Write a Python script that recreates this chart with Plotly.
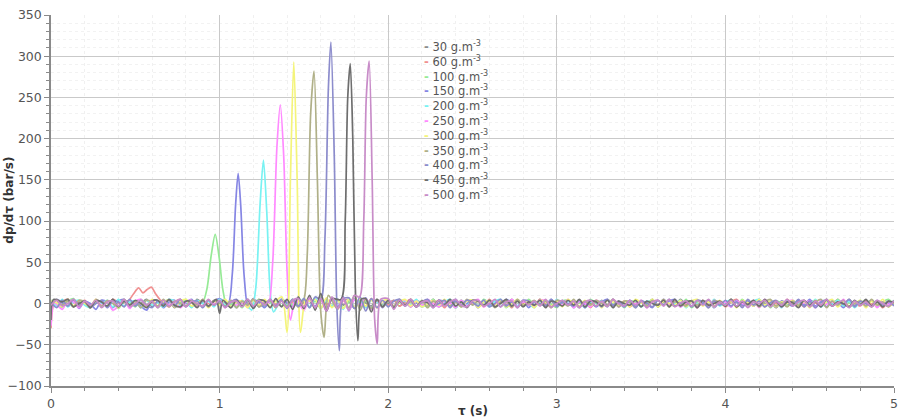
import numpy as np
import plotly.graph_objects as go

# ---------------- data ----------------
concentrations = ["30", "60", "100", "150", "200", "250", "300", "350", "400", "450", "500"]
colors = ["#8c8c8c", "#f09090", "#96ea96", "#8686e4", "#78f2f2", "#ff8aff",
          "#f4f47a", "#b0b088", "#8c8ccc", "#6e6e6e", "#c88cc8"]

# baseline samples (bar/s), evenly spaced over 0..5 s
base_30 = [-3, 4, -2, 5, -4, 2, 0, -5, 4, 1, -3, 5, -4, 2, 3,
           -2, 0, 5, -4, 3, -1, 4, -5, 2, 1, -4, 5, 0, -3, 4,
           -1, 3, -5, 4, 1, -3, 6, -4, 0, 3, -2, 5, -1, 4, -4,
           1, 3, -5, 4, 0, -3, 5, -2, 3, -6, 4, 1, -3, 5, -2,
           0, 4, -3, 2, -4, 3, 1, -3, 5, -4, 0, 3, -5, 4, -1,
           3, -3, 4, 1, -4, 3, -2, 5, -3, 0, 2, -4, 5, -1, 3,
           -3, 4, -2, 1, -5, 3, 0, -3, 4, -2, 5, -4, 1, 2, -3,
           4, -1, 3, -4, 2, 0, -3, 5, -2, 3, -4, 1, 4, -3, 2,
           -2, 5, -4, 1, 3, -3, 4, -1, 2, -5, 3, 0, -2, 4, -3,
           1, 3, -4, 2, -1, 4, -3, 5, -2, 0, 3, -4, 2, 1, -3, 4]
base_60 = [2, -4, 3, 5, -3, 0, 4, -5, 2, 3, -4, 5, 1, -3, 4,
           1, -5, 3, 4, -2, 3, -4, 2, 5, -3, 1, -4, 3, 0, -2,
           4, -3, 2, -5, 3, 1, -4, 5, -2, 3, -1, 4, -5, 2, 0,
           -3, 6, -5, 4, -2, 7, -6, 3, 5, -4, 2, -3, 6, -5, 3,
           -2, 4, -3, 1, 5, -4, 3, -2, 0, 4, -5, 3, 2, -3, 4,
           -1, 3, -4, 5, -2, 1, 3, -5, 4, -1, 2, -3, 5, 0, -4,
           3, -2, 4, -3, 1, 2, -5, 4, 0, -3, 5, -2, 3, -4, 1,
           2, -3, 5, -4, 3, -1, 4, -2, 0, 3, -5, 4, -2, 1, 3,
           -4, 2, 5, -3, 1, -2, 4, -4, 3, 0, -3, 5, -1, 2, -4,
           3, 1, -3, 4, -2, 5, -4, 2, 0, -3, 4, -1, 3, -5, 2, 1]
base_100 = [4, -1, -5, 3, 6, -3, 2, -4, 5, 0, -3, 4, -6, 3, 1,
            -4, 5, -2, 3, -5, 2, 4, -3, 0, 5, -4, 3, -1, 4, -5,
            3, 6, -4, 2, -5, 3, -2, 5, -4, 1, 3, -3, 4, -2, 0,
            5, -4, 3, -6, 5, -3, 4, -5, 2, 6, -4, 3, -5, 4, -2,
            3, -4, 1, 4, -3, 2, 0, -4, 5, -3, 2, 1, -5, 4, -2,
            3, -3, 5, 0, -2, 4, -5, 2, 3, -3, 5, -2, 0, 4, -1,
            -5, 3, 4, -2, 1, -4, 5, 0, -3, 4, -1, 2, -5, 3, 2,
            -3, 0, 5, -4, 3, -2, 4, -3, 5, -5, 2, 3, -4, 4, 0,
            -2, 3, -4, 5, -1, 2, -3, 4, -5, 3, 1, -2, 4, -3, 2,
            0, -4, 3, 2, -3, 5, -2, 1, -4, 4, -1, 3, -3, 2, 5, -2]
base_150 = [-4, 5, 1, -3, 4, -6, 3, 0, -7, 4, 2, -5, 3, 5, -4,
            2, -3, -8, 4, 3, -5, 2, 4, -4, 1, 5, -3, 2, -4, 3,
            6, -7, 5, -4, 3, -6, 4, 2, -5, 3, -3, 5, 1, -4, 3,
            -5, 4, -3, 6, -6, 5, -4, 8, -9, 5, -3, 7, -6, 4, -5,
            3, -4, 5, -2, 4, 1, -4, 3, -5, 4, 2, -3, 5, -4, 0,
            3, -5, 4, -2, 3, -4, 5, 1, -3, 4, -5, 2, 0, -3, 5,
            -2, 1, 4, -5, 3, -1, 4, -4, 2, 5, -3, 1, -4, 4, -2,
            3, 0, -5, 4, -2, 3, 5, -4, 2, -3, 4, -1, 3, -5, 2,
            1, -4, 4, -2, 3, -3, 5, -1, 2, -4, 3, 0, -3, 4, -2,
            5, -3, 2, -4, 3, 1, -5, 4, -2, 3, -1, 4, -4, 2, 0, 3]
base_200 = [3, -3, 5, -4, 2, 4, -2, -5, 3, 0, 4, -4, 5, -3, 2,
            3, -5, 4, -2, 1, -4, 5, 3, -3, 2, -5, 4, 0, 3, -4,
            5, -2, 3, -5, 4, -3, 2, 5, -4, 3, -6, 4, -2, 5, -3,
            6, -5, 7, -6, 4, -3, 5, -7, 6, -4, 3, -5, 4, 2, -3,
            4, -5, 2, 3, -2, 5, -4, 0, 4, -3, 2, 5, -5, 3, -2,
            4, -3, 2, -4, 3, 5, -4, 2, -3, 4, 0, -5, 3, 2, -4,
            5, -2, 3, -3, 4, -5, 2, 1, 3, -4, 5, -3, 2, -2, 4,
            -4, 3, 1, -3, 5, -2, 0, 4, -5, 3, -1, 2, -4, 5, -3,
            2, 4, -3, 1, -4, 3, 5, -2, 0, 3, -5, 4, -2, 1, 3,
            -3, 5, -4, 2, -1, 4, -3, 3, -5, 2, 0, 4, -3, 2, -2, 3]
base_250 = [-2, 3, -7, 4, 2, -5, 3, -4, 5, -2, 3, -8, -3, 4, -6,
            3, 5, -3, 2, -4, 4, -2, 3, -5, 2, 4, -3, 5, -4, 1,
            3, -5, 4, -2, 1, -4, 5, -3, 2, -6, 4, -2, 3, -5, 4,
            -8, 6, -5, 4, -9, 7, -6, 4, -8, 5, -3, 6, -7, 4, -4,
            5, -3, 2, 4, -4, 3, -2, 5, 0, -4, 3, 1, -5, 4, -3,
            2, 5, -4, 1, -2, 4, -3, 5, -4, 2, 0, -3, 4, 3, -5,
            4, -2, 5, -5, 3, 0, -4, 4, 1, -3, 5, -4, 3, -2, 0,
            4, -5, 3, -3, 5, -2, 4, -4, 1, 2, -5, 3, -3, 4, 0,
            2, -4, 3, 0, -3, 4, -5, 5, -2, 3, -4, 2, 4, -3, 1,
            3, -5, 4, -1, 2, -3, 5, -4, 0, 3, -2, 4, -5, 2, -1, 2]
base_300 = [3, 1, -4, 5, -3, 4, 0, -3, 5, -4, 2, 3, -5, 4, -2,
            3, 0, -4, 5, -3, 2, 4, -4, 3, 5, -3, 0, 4, -5, 3,
            -2, 5, -4, 2, 3, -5, 4, -2, 5, -4, 3, -3, 4, -5, 6,
            -4, 3, 5, -6, 7, -5, 4, -6, 5, -4, 6, -3, 4, -5, 3,
            4, -4, 2, 5, -3, 3, -4, 0, 4, -2, 5, -3, 2, -4, 3,
            4, -5, 2, 3, -3, 4, -4, 0, 5, -2, 3, -5, 4, 2, -3,
            3, -4, 5, 0, -3, 4, -2, 3, -5, 4, 2, -3, 3, -4, 5,
            1, -3, 5, -4, 3, 0, -2, 4, -4, 3, 5, -3, 2, -4, 4,
            -2, 3, -5, 4, 1, -3, 5, -2, 3, -4, 2, 0, 4, -3, 3,
            -5, 4, -2, 2, 5, -4, 3, -3, 0, 4, -5, 3, -2, 5, -4, 2]
base_350 = [-3, 5, -2, 3, -4, 4, 2, -5, 3, -3, 4, 0, -4, 5, -2,
            3, -5, 4, 2, -3, 5, -4, 3, 0, -3, 4, -2, 5, -4, 3,
            2, -3, 4, -5, 3, -2, 5, -4, 1, 3, -5, 4, -3, 5, -4,
            12, 4, -6, 7, -12, 9, -7, 6, -5, 10, -8, 5, -6, 4, -4,
            3, -3, 5, -2, 2, -4, 4, -5, 3, 0, 4, -3, 2, -4, 5,
            -2, 3, -3, 4, -5, 2, 3, -4, 5, -2, 0, 4, -2, 3, -5,
            4, 2, -3, 5, -4, 3, -2, 4, 0, -3, 5, -4, 3, 2, -5,
            3, -3, 4, -2, 5, -4, 2, 0, -3, 4, -2, 3, -5, 4, 1,
            -3, 5, -4, 3, -2, 4, -4, 2, 5, -3, 1, -4, 3, -2, 4,
            -3, 2, 5, -5, 3, -2, 4, -4, 0, 3, -3, 5, -2, 2, -4, 3]
base_400 = [2, -5, 4, -3, 5, -2, 3, -4, 0, 4, -5, 3, 2, -4, 5,
            -3, 4, -2, -5, 3, 0, 4, -3, 5, -4, 2, 3, -5, 4, -2,
            3, -4, 2, 5, -3, 4, -5, 3, -2, 5, -3, 4, -6, 5, -3,
            6, -5, 8, -7, 14, -8, 9, -10, 7, -6, 8, -9, 6, -5, 4,
            -4, 3, 5, -3, 4, -4, 2, 5, -3, 0, 4, -5, 3, -2, 4,
            2, -3, 4, -4, 0, 5, -3, 2, -5, 4, 3, -2, 4, -3, 5,
            -4, 2, 0, -3, 4, -5, 3, 2, -4, 5, -2, 3, -3, 4, -5,
            3, 1, -4, 4, -2, 5, -3, 0, 3, -4, 4, 2, -5, 3, -2,
            4, -3, 2, -5, 5, -2, 3, -4, 1, 4, -3, 2, -2, 5, -4,
            3, -5, 2, 4, -3, 2, -1, 5, -4, 3, 0, -3, 4, -2, 3, -3]
base_450 = [4, -3, 2, 5, -4, 0, 3, -5, 4, 2, -3, 5, -4, 3, -2,
            4, 0, -5, 3, 4, -3, 5, -2, -4, 3, 2, -5, 4, -3, 5,
            -4, 6, -5, 4, -3, 5, -6, 4, 3, -5, 6, -4, 5, -7, 8,
            -6, 10, -8, 12, -9, 6, -8, 5, -6, 9, -7, 6, -10, 5, -4,
            4, -5, 3, -2, 5, -4, 3, 1, -4, 4, -2, 5, -3, 2, -5,
            4, 3, -2, 4, -4, 0, 5, -3, 3, -4, 2, -2, 4, -5, 3,
            1, -3, 4, -2, 5, -4, 3, 2, -3, 4, -5, 3, 0, -2, 4,
            -4, 3, 0, -2, 4, -4, 5, -3, 2, 3, -5, 4, -2, 0, 3,
            -3, 5, -4, 2, -1, 4, -3, 5, -2, 3, -4, 2, 1, -5, 4,
            -2, 3, -4, 5, -3, 2, 0, -4, 4, -2, 5, -3, 2, -4, 3, 1]
base_500 = [-2, 4, -3, 0, 5, -4, 3, -2, 4, -5, 2, 3, -3, 5, -4,
            0, 4, -2, 3, -5, 4, -3, 2, 5, -4, 3, 0, -3, 5, -2,
            4, -5, 2, 3, -4, 5, -3, 4, -2, 5, -4, 3, -5, 4, 6,
            -4, 7, -5, 6, -9, 8, -6, 7, -8, 10, -7, 14, -8, 7, -11,
            6, -7, 4, -3, 5, -4, 2, 3, -5, 4, -3, 2, 5, -2, -4,
            3, 4, -3, 0, 5, -4, 2, 3, -5, 4, -2, 3, -3, 5, -4,
            0, 4, -2, 3, -5, 2, 4, -3, 3, -4, 5, 0, -3, 4, -2,
            3, -5, 2, 4, -3, 5, -4, 1, 3, -3, 4, -2, 5, -4, 2,
            -2, 4, -3, 3, -5, 2, 0, 4, -4, 3, -2, 5, -3, 2, 4,
            -4, 3, -2, 5, -3, 1, 4, -5, 3, -2, 2, -4, 4, 0, -3, 3]

# event points: (time s, dp/dt bar/s) – start transient, bumps and combustion peaks
ev_t_30 = [0.0, 0.015]
ev_y_30 = [-22, 2]
ev_t_60 = [0.0, 0.02, 0.46, 0.49, 0.52, 0.545, 0.57, 0.595, 0.62, 0.65]
ev_y_60 = [-30, 0, 3, 12, 19, 13, 17, 20, 12, 4]
ev_t_100 = [0.90, 0.925, 0.95, 0.974, 0.998, 1.02, 1.045]
ev_y_100 = [2, 18, 58, 84, 55, 16, -3]
ev_t_150 = [1.05, 1.075, 1.095, 1.11, 1.125, 1.145, 1.17]
ev_y_150 = [0, 35, 120, 158, 120, 35, -5]
ev_t_200 = [1.19, 1.215, 1.24, 1.26, 1.28, 1.30, 1.32]
ev_y_200 = [-8, 20, 120, 174, 110, 15, -10]
ev_t_250 = [0.0, 0.02, 1.29, 1.315, 1.34, 1.36, 1.38, 1.40, 1.42, 1.45]
ev_y_250 = [-27, 1, 0, 50, 190, 241, 180, 40, -20, 5]
ev_t_300 = [1.37, 1.40, 1.42, 1.44, 1.46, 1.48, 1.51]
ev_y_300 = [8, -35, 150, 293, 150, -35, 5]
ev_t_350 = [1.50, 1.52, 1.54, 1.56, 1.58, 1.60, 1.62, 1.645]
ev_y_350 = [5, 60, 230, 282, 150, -10, -41, 10]
ev_t_400 = [1.60, 1.625, 1.645, 1.66, 1.68, 1.695, 1.71, 1.73]
ev_y_400 = [5, 80, 260, 317, 180, 0, -57, 5]
ev_t_450 = [0.0, 0.015, 0.98, 1.0, 1.02, 1.72, 1.745, 1.76, 1.775, 1.79, 1.805, 1.82, 1.84]
ev_y_450 = [-20, 5, 5, -12, 4, 5, 100, 250, 291, 200, 20, -45, 5]
ev_t_500 = [1.83, 1.855, 1.87, 1.887, 1.905, 1.92, 1.935, 1.955]
ev_y_500 = [8, 100, 250, 294, 150, -20, -49, 5]

bases = [base_30, base_60, base_100, base_150, base_200, base_250,
         base_300, base_350, base_400, base_450, base_500]
ev_ts = [ev_t_30, ev_t_60, ev_t_100, ev_t_150, ev_t_200, ev_t_250,
         ev_t_300, ev_t_350, ev_t_400, ev_t_450, ev_t_500]
ev_ys = [ev_y_30, ev_y_60, ev_y_100, ev_y_150, ev_y_200, ev_y_250,
         ev_y_300, ev_y_350, ev_y_400, ev_y_450, ev_y_500]

x_ticks = [0, 1, 2, 3, 4, 5]
y_ticks = [-100, -50, 0, 50, 100, 150, 200, 250, 300, 350]

# ---------------- figure ----------------
fig = go.Figure()
for name, col, base, et, ey in zip(concentrations, colors, bases, ev_ts, ev_ys):
    tb = np.linspace(0, 5, len(base))
    yb = np.array(base, dtype=float)
    et = np.array(et); ey = np.array(ey, dtype=float)
    keep = np.array([np.min(np.abs(et - t)) > 0.022 for t in tb])
    t_all = np.concatenate([tb[keep], et])
    y_all = np.concatenate([yb[keep], ey])
    order = np.argsort(t_all)
    fig.add_trace(go.Scatter(x=t_all[order], y=y_all[order], mode="lines",
                             line=dict(color=col, width=1.7, shape="spline", smoothing=0.8),
                             name=name + " g.m⁻³", showlegend=False))

# legend built with annotations (short dash samples like the original)
leg_x, leg_y0, leg_dy = 424, 40, 15.1
W, H = 905, 420
ml, mr, mt, mb = 51, 7, 8, 34
pw, ph = W - ml - mr, H - mt - mb
for i, (name, col) in enumerate(zip(concentrations, colors)):
    py = leg_y0 + i * leg_dy
    fig.add_annotation(xref="paper", yref="paper",
                       x=(leg_x - ml) / pw, y=1 - (py - mt) / ph,
                       xanchor="left", yanchor="middle", showarrow=False,
                       text=f"<span style='color:{col}'><b>-</b></span> {name} g.m<sup>-3</sup>",
                       font=dict(family="DejaVu Sans", size=11.5, color="#555555"))

fig.add_annotation(xref="paper", yref="paper", x=-43 / pw, y=0.5,
                   textangle=-90, showarrow=False, xanchor="center", yanchor="middle",
                   text="<b>dp/dτ (bar/s)</b>",
                   font=dict(family="DejaVu Sans", size=12, color="#333333"))
fig.add_annotation(xref="paper", yref="paper", x=0.5, y=-25 / ph,
                   showarrow=False, xanchor="center", yanchor="middle",
                   text="<b>τ (s)</b>",
                   font=dict(family="DejaVu Sans", size=12, color="#333333"))

axis_common = dict(showline=True, linecolor="#8a8a8a", linewidth=1.5,
                   ticks="outside", ticklen=5, tickcolor="#8a8a8a",
                   showgrid=True, gridcolor="#c9c9c9", gridwidth=1.4,
                   zeroline=False,
                   tickfont=dict(family="DejaVu Sans", size=12.5, color="#555555"))
fig.update_xaxes(range=[0, 5], tickvals=x_ticks,
                 minor=dict(dtick=0.2, ticks="outside", ticklen=3, tickcolor="#8a8a8a",
                            showgrid=True, gridcolor="#f0f0f0", griddash="dot"),
                 **axis_common)
fig.update_yaxes(range=[-100, 350], tickvals=y_ticks,
                 minor=dict(dtick=10, ticks="outside", ticklen=3, tickcolor="#8a8a8a",
                            showgrid=True, gridcolor="#f2f2f2", griddash="dot"),
                 **axis_common)

fig.update_layout(width=W, height=H, margin=dict(l=ml, r=mr, t=mt, b=mb),
                  plot_bgcolor="white", paper_bgcolor="white", showlegend=False)

fig.write_html("out.html")
